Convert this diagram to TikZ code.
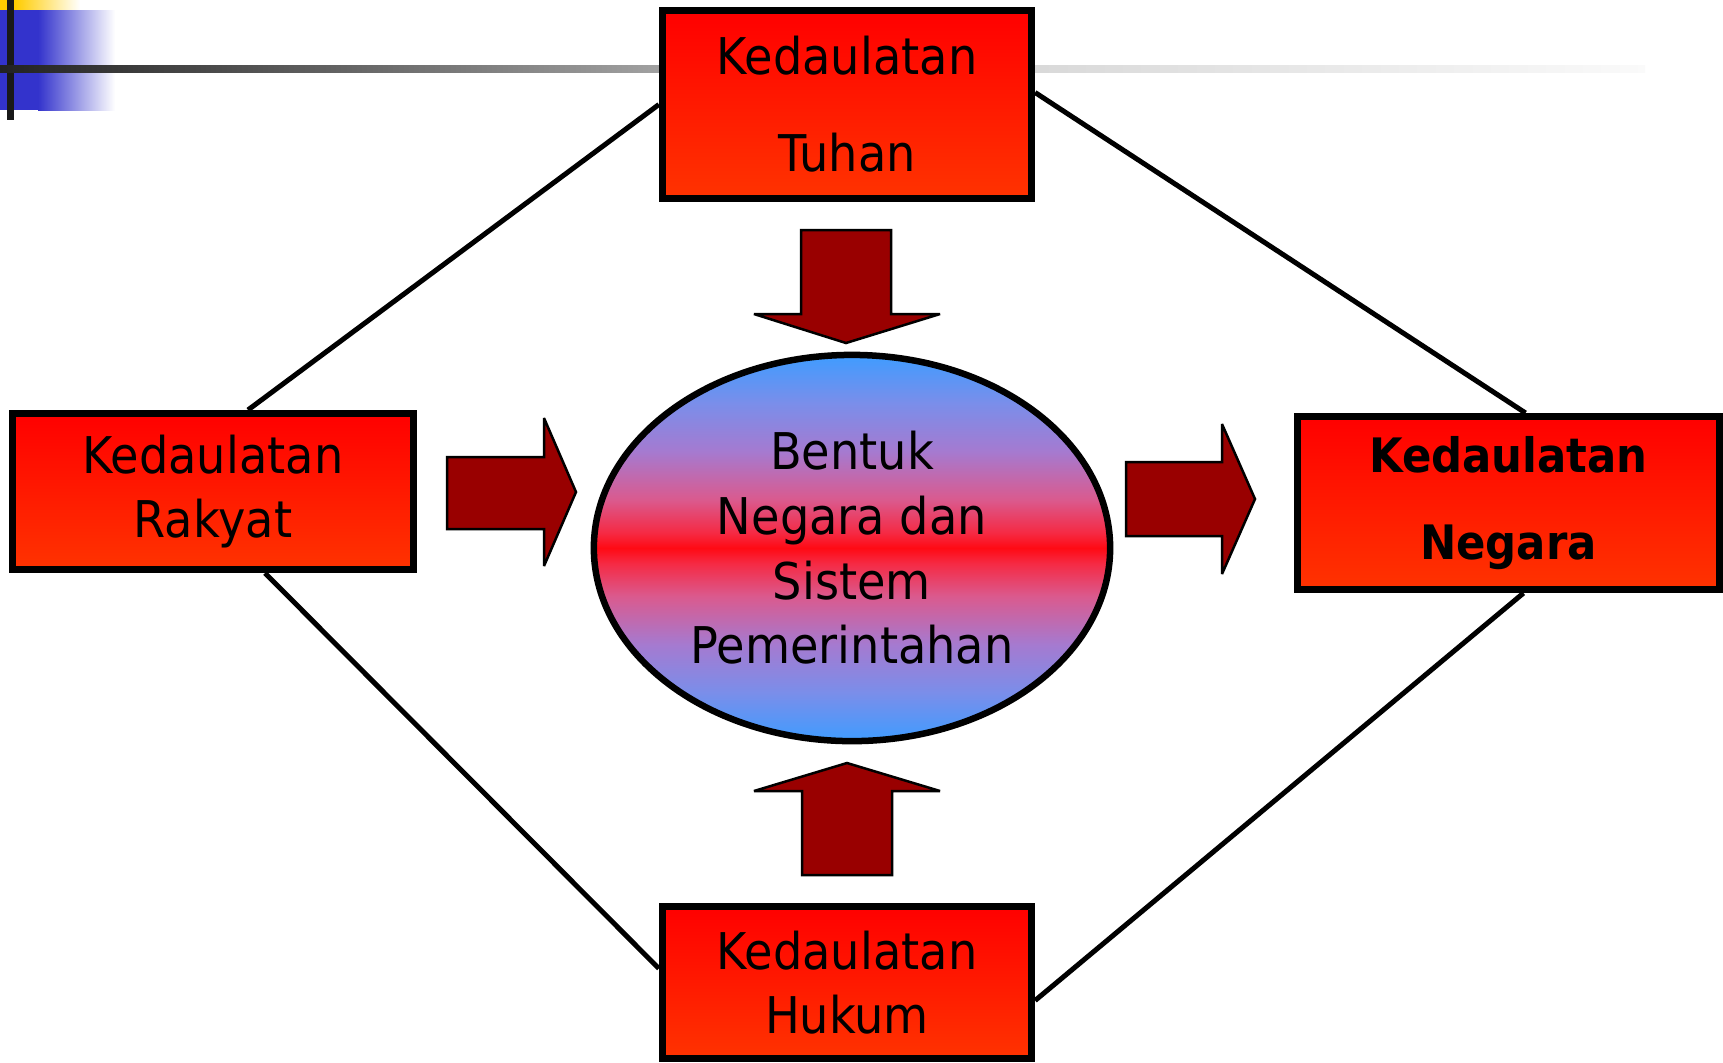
\documentclass[tikz,border=0pt]{standalone}
\usepackage{fontspec}
\setmainfont{DejaVu Sans}[FakeStretch=0.914]
\usetikzlibrary{shapes.geometric,calc}

\definecolor{kotakatas}{HTML}{FF0000}
\definecolor{kotakbawah}{HTML}{FF3300}
\definecolor{elbiru}{HTML}{3F9CFF}
\definecolor{elbiru2}{HTML}{7A8EEA}
\definecolor{elungu}{HTML}{A57AD0}
\definecolor{elmerahmuda}{HTML}{DA5A8E}
\definecolor{elmerah2}{HTML}{F52A44}
\definecolor{elmerah}{HTML}{FF0A14}
\definecolor{panahmerah}{HTML}{990000}
\definecolor{garisgelap}{HTML}{222222}
\definecolor{birutua}{HTML}{3333CC}
\definecolor{kuning}{HTML}{FFCC00}

% 楕円の縦グラデーション (青→紫→赤→紫→青)
\pgfdeclareverticalshading{bolashade}{100bp}{%
  color(0bp)=(elbiru); color(25bp)=(elbiru); color(31.25bp)=(elbiru2);
  color(37.5bp)=(elungu); color(43.75bp)=(elmerahmuda); color(48bp)=(elmerah2);
  color(50bp)=(elmerah); color(52bp)=(elmerah2); color(56.25bp)=(elmerahmuda);
  color(62.5bp)=(elungu); color(68.75bp)=(elbiru2); color(75bp)=(elbiru);
  color(100bp)=(elbiru)}

\tikzset{
  kotak/.style={rectangle, draw=black, line width=0.07cm,
    top color=kotakatas, bottom color=kotakbawah,
    inner sep=0pt, align=center, font=\fontsize{14.4}{18.4}\selectfont},
  bola/.style={ellipse, draw=black, line width=0.065cm, shading=bolashade,
    inner sep=0pt, align=center, font=\fontsize{14.4}{18.4}\selectfont},
  panah/.style={fill=panahmerah, draw=black, line width=0.025cm,
    line join=miter, miter limit=2},
  garis/.style={draw=black, line width=0.05cm},
}

\begin{document}
\begin{tikzpicture}[x=0.01cm, y=-0.01cm]
    % 全体の大きさ (1 単位 = 1 px)
    \useasboundingbox (0,0) rectangle (1723,1062);

    % 左上の飾り
    \fill[kuning] (0,0) rectangle (15,10);
    \shade[left color=kuning, right color=white] (15,0) rectangle (80,10);
    \fill[birutua] (0,10) rectangle (38,110);
    \shade[left color=birutua, right color=white] (38,10) rectangle (115,110);
    \fill[black!90] (7,0) rectangle (14,120);

    % 上の横線 (右へ薄くなる)
    \shade[left color=garisgelap, right color=black!37] (0,65) rectangle (659,72);
    \shade[left color=black!15, right color=black!2] (1035,65) rectangle (1645,72);

    % 四つの箱
    \node[kotak, minimum width=3.69cm, minimum height=1.88cm,
          font=\fontsize{14.4}{27.6}\selectfont] (tuhan) at (847,104.5) {Kedaulatan\\Tuhan};
    \node[kotak, minimum width=4.01cm, minimum height=1.56cm] (rakyat) at (213,491.5) {Kedaulatan\\Rakyat};
    \node[kotak, minimum width=4.22cm, minimum height=1.73cm,
          font=\fontsize{13.5}{24.5}\selectfont\bfseries] (negara) at (1508.5,503) {Kedaulatan\\Negara};
    \node[kotak, minimum width=3.69cm, minimum height=1.52cm] (hukum) at (847,982.5) {Kedaulatan\\Hukum};

    % 中央の楕円
    \node[bola, minimum width=5.16cm, minimum height=3.86cm] (bentuk) at (852,548)
        {Bentuk\\Negara dan\\Sistem\\Pemerintahan};

    % 箱どうしを結ぶ線
    \draw[garis] (tuhan.west) -- ($(rakyat.north)+(35,0)$);
    \draw[garis] ($(tuhan.east)+(0,-12)$) -- ($(negara.north)+(17,0)$);
    \draw[garis] ($(rakyat.south)+(52,0)$) -- ($(hukum.west)+(0,-14)$);
    \draw[garis] ($(negara.south)+(15,0)$) -- ($(hukum.east)+(0,18)$);

    % 太い矢印 (上・下・左・右)
    \draw[panah] (801,230) -- (891,230) -- (891,314) -- (940,314) -- (846,343)
        -- (754,314) -- (801,314) -- cycle;
    \draw[panah] (802,875) -- (892,875) -- (892,791) -- (940,791) -- (847,763)
        -- (754,791) -- (802,791) -- cycle;
    \draw[panah] (447,457) -- (544,457) -- (544,418) -- (576,492) -- (544,566)
        -- (544,529) -- (447,529) -- cycle;
    \draw[panah] (1126,462) -- (1222,462) -- (1222,424) -- (1255,499) -- (1222,574)
        -- (1222,536) -- (1126,536) -- cycle;
\end{tikzpicture}
\end{document}
